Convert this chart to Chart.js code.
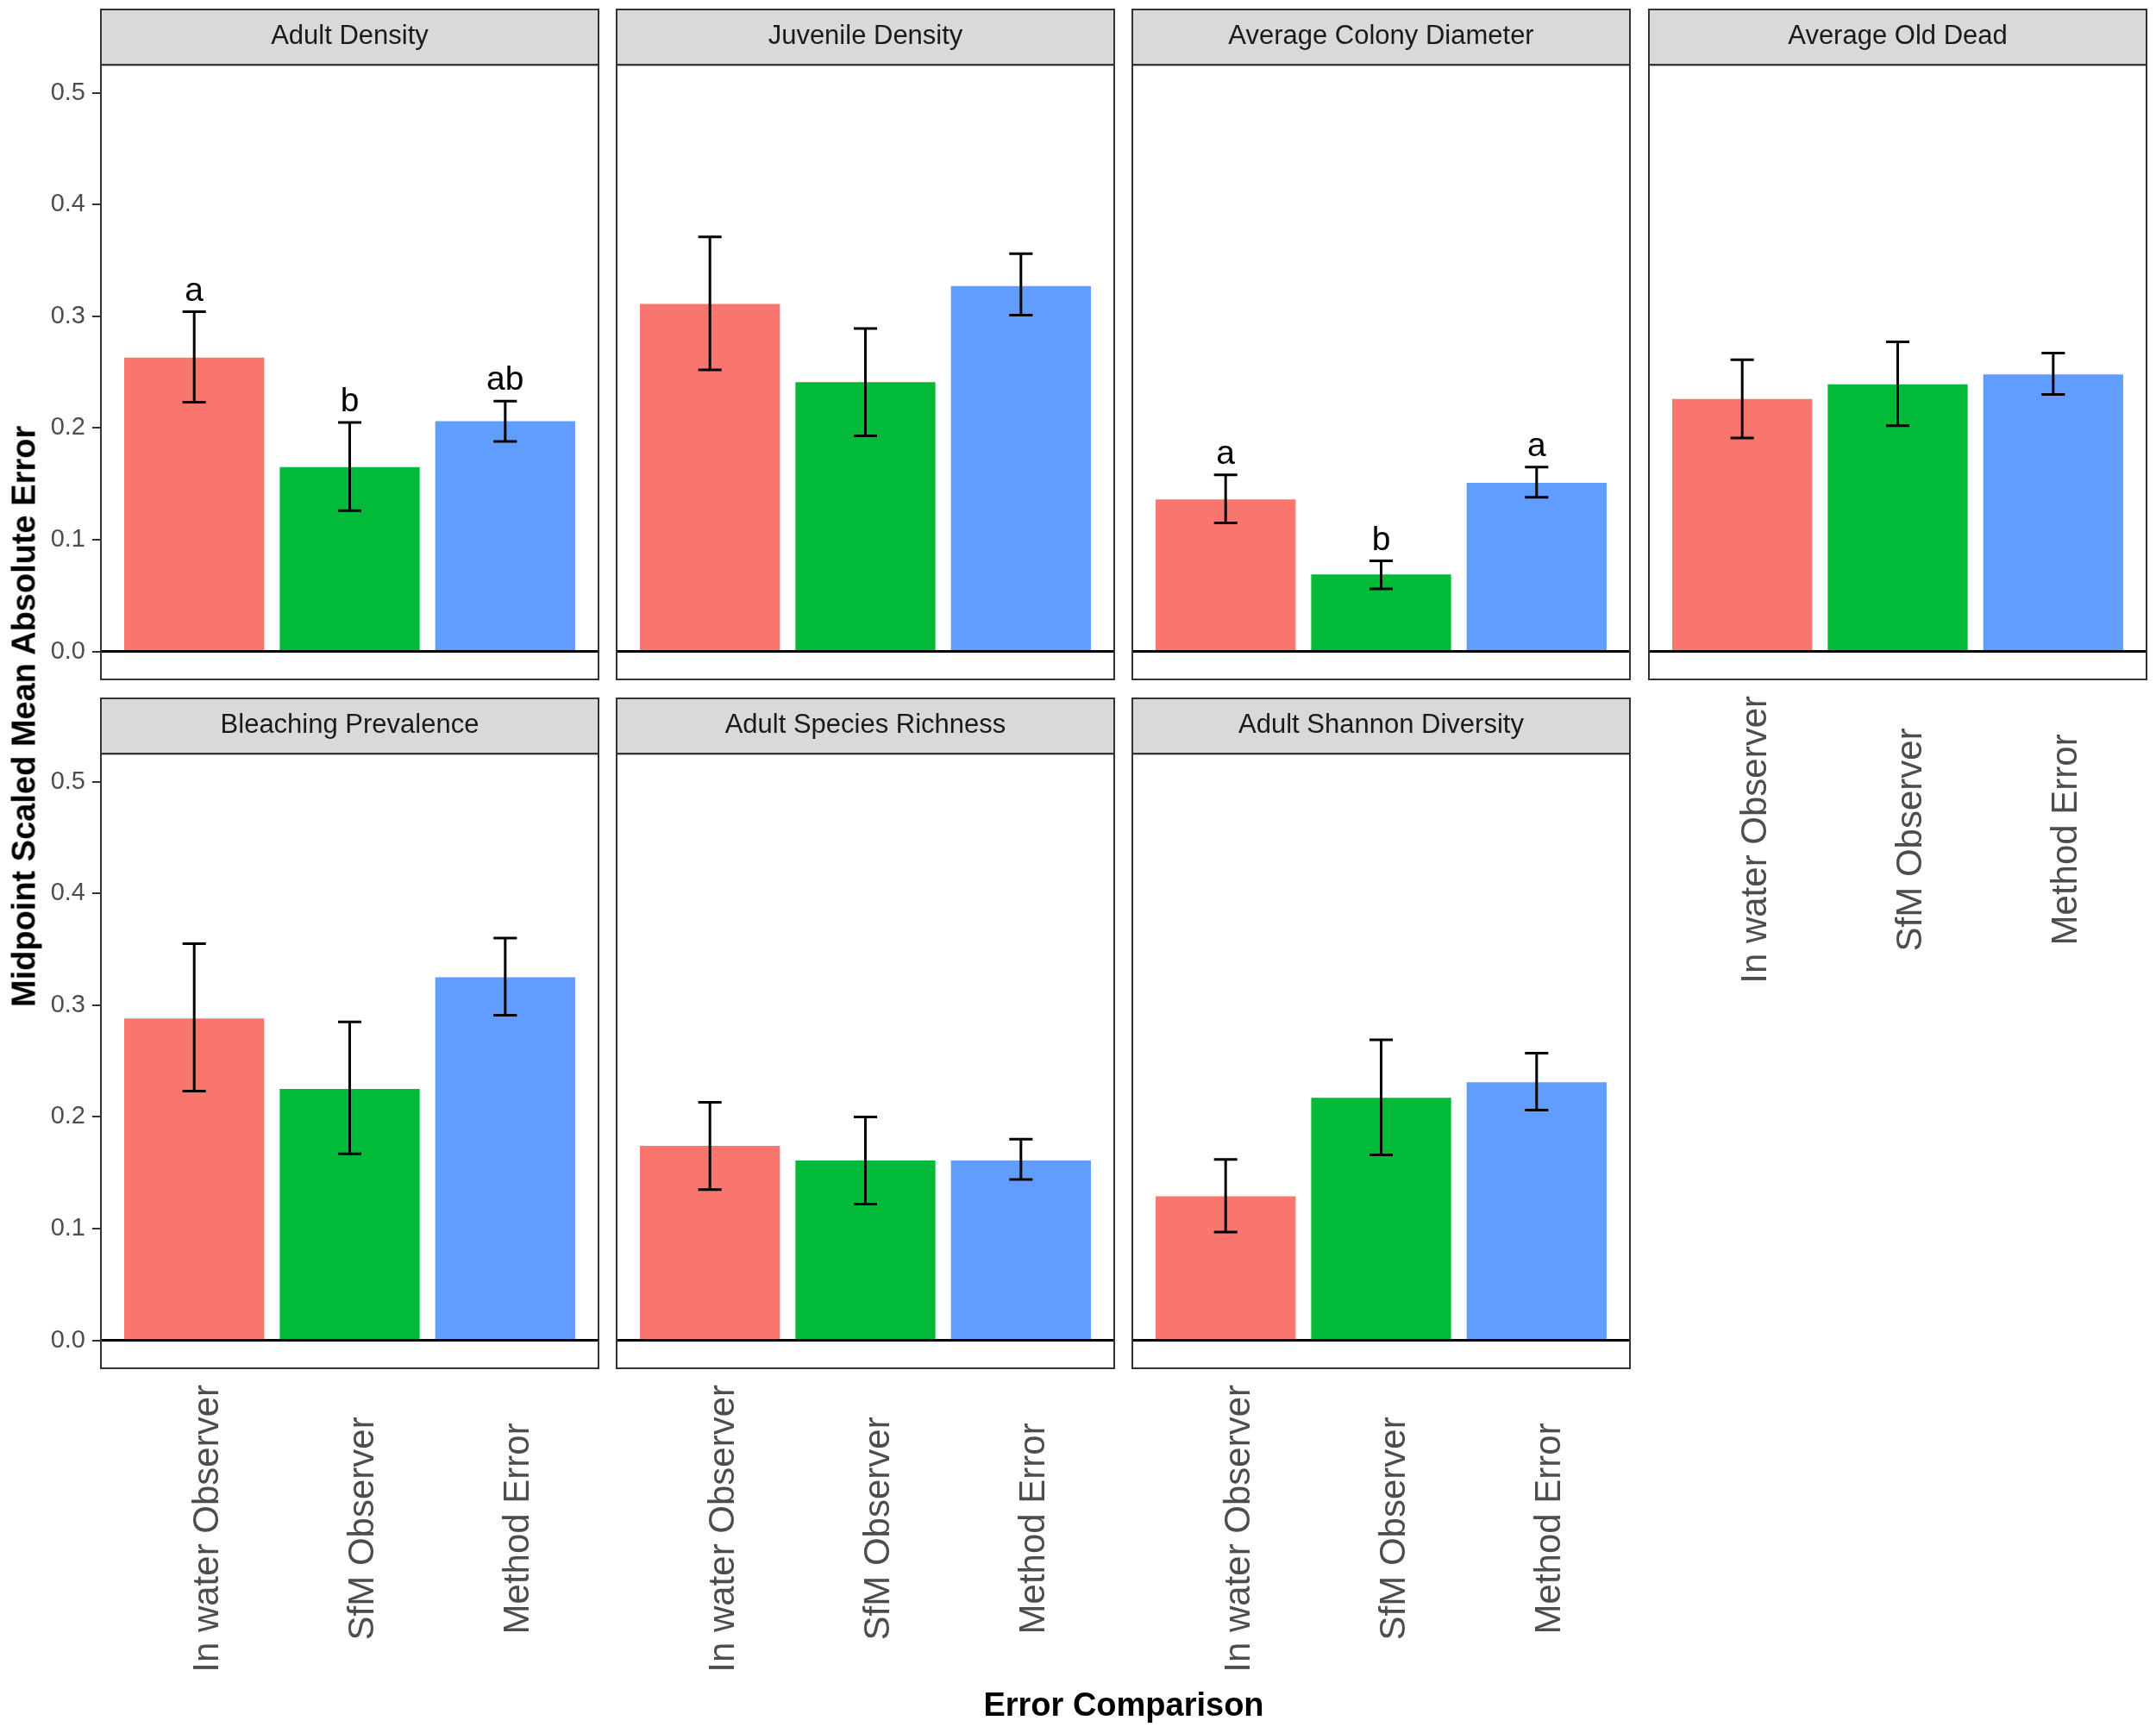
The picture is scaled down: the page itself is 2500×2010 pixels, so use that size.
<!DOCTYPE html>
<html><head><meta charset="utf-8">
<script src="https://cdn.jsdelivr.net/npm/chart.js@4.4.1/dist/chart.umd.min.js"></script>
<style>
html,body{margin:0;padding:0;background:#fff;}
body{width:2500px;height:2010px;position:relative;overflow:hidden;font-family:"Liberation Sans",Arial,sans-serif;}
canvas{position:absolute;}
.ttl{position:absolute;font-weight:bold;font-size:38px;color:#000;white-space:nowrap;z-index:5;}
</style></head><body>
<div class="ttl" style="left:28px;top:831px;transform:translate(-50%,-50%) rotate(-90deg);">Midpoint Scaled Mean Absolute Error</div>
<div class="ttl" style="left:1303px;top:1977px;transform:translate(-50%,-50%);">Error Comparison</div>
<script>
// ---- data ----
const facets = ["Adult Density","Juvenile Density","Average Colony Diameter","Average Old Dead","Bleaching Prevalence","Adult Species Richness","Adult Shannon Diversity"];
const comparisons = ["In water Observer","SfM Observer","Method Error"];
const inWaterMean = [0.263, 0.311, 0.136, 0.226, 0.288, 0.174, 0.129];
const inWaterLow  = [0.223, 0.252, 0.115, 0.191, 0.223, 0.135, 0.097];
const inWaterHigh = [0.304, 0.371, 0.158, 0.261, 0.355, 0.213, 0.162];
const sfmMean = [0.165, 0.241, 0.069, 0.239, 0.225, 0.161, 0.217];
const sfmLow  = [0.126, 0.193, 0.056, 0.202, 0.167, 0.122, 0.166];
const sfmHigh = [0.205, 0.289, 0.081, 0.277, 0.285, 0.200, 0.269];
const methodMean = [0.206, 0.327, 0.151, 0.248, 0.325, 0.161, 0.231];
const methodLow  = [0.188, 0.301, 0.138, 0.230, 0.291, 0.144, 0.206];
const methodHigh = [0.224, 0.356, 0.165, 0.267, 0.360, 0.180, 0.257];
const inWaterLetters = ["a", "", "a", "", "", "", ""];
const sfmLetters     = ["b", "", "b", "", "", "", ""];
const methodLetters  = ["ab","", "a", "", "", "", ""];
const yTicks = [0, 0.1, 0.2, 0.3, 0.4, 0.5];
const yMin = -0.025, yMax = 0.525;

const means = [inWaterMean, sfmMean, methodMean];
const lows = [inWaterLow, sfmLow, methodLow];
const highs = [inWaterHigh, sfmHigh, methodHigh];
const letters = [inWaterLetters, sfmLetters, methodLetters];
const barColors = ['#F8766D', '#00BA38', '#619CFF'];

// ---- layout / style ----
const FONT = '"Liberation Sans", Arial, sans-serif';
const COL_LEFT = [117, 715, 1313, 1912];
const ROW_TOP = [10, 809];
const PANEL_W = 577, STRIP_H = 65, PANEL_H = 713, YAXIS_W = 100, XAXIS_H = 370;
const CAP_HALF = 0.075;
const X_LABEL_SHIFT = 16;

const decor = {
  id: 'decor',
  beforeDraw(chart) {
    const ctx = chart.ctx, ca = chart.chartArea;
    ctx.save();
    ctx.fillStyle = '#D9D9D9';
    ctx.fillRect(ca.left, 1, ca.width, ca.top - 1);
    ctx.strokeStyle = '#333333';
    ctx.lineWidth = 2;
    ctx.strokeRect(ca.left, 1, ca.width, ca.top - 1);
    ctx.restore();
    const xs = chart.scales.x;
    if (xs.options.display) {
      try {
        const items = xs.getLabelItems();
        const f = xs.options.ticks.font;
        ctx.save();
        ctx.font = f.size + 'px ' + f.family;
        let maxW = 0;
        items.forEach(it => { maxW = Math.max(maxW, ctx.measureText(String(it.label)).width); });
        ctx.restore();
        items.forEach(it => {
          if (it._centered) return;
          it._centered = true;
          it.options.textAlign = 'center';
          it.options.translation[1] += maxW / 2;
          it.options.translation[0] += X_LABEL_SHIFT;
        });
      } catch (e) {}
    }
  },
  afterDatasetsDraw(chart) {
    const ctx = chart.ctx, ca = chart.chartArea;
    const xs = chart.scales.x, ys = chart.scales.y;
    const fi = chart.options.plugins.decor.facet;
    ctx.save();
    // zero line
    const y0 = ys.getPixelForValue(0);
    ctx.strokeStyle = '#000';
    ctx.lineWidth = 3;
    ctx.beginPath();
    ctx.moveTo(ca.left, y0); ctx.lineTo(ca.right, y0);
    ctx.stroke();
    // error bars and letters
    ctx.lineWidth = 3;
    for (let j = 0; j < comparisons.length; j++) {
      const x = xs.getPixelForValue(j + 1);
      const xl = xs.getPixelForValue(j + 1 - CAP_HALF);
      const xr = xs.getPixelForValue(j + 1 + CAP_HALF);
      const yl = ys.getPixelForValue(lows[j][fi]);
      const yh = ys.getPixelForValue(highs[j][fi]);
      ctx.beginPath();
      ctx.moveTo(x, yl); ctx.lineTo(x, yh);
      ctx.moveTo(xl, yl); ctx.lineTo(xr, yl);
      ctx.moveTo(xl, yh); ctx.lineTo(xr, yh);
      ctx.stroke();
      const lt = letters[j][fi];
      if (lt) {
        ctx.fillStyle = '#000';
        ctx.font = '39px ' + FONT;
        ctx.textAlign = 'center';
        ctx.textBaseline = 'alphabetic';
        ctx.fillText(lt, x, yh - 13);
      }
    }
    ctx.restore();
  },
  afterDraw(chart) {
    const ctx = chart.ctx, ca = chart.chartArea;
    ctx.save();
    ctx.strokeStyle = '#333333';
    ctx.lineWidth = 2;
    ctx.strokeRect(ca.left, ca.top, ca.width, ca.height);
    ctx.restore();
  }
};

facets.forEach((name, i) => {
  const row = Math.floor(i / 4), col = i % 4;
  const isLeft = col === 0;
  const isBottom = i >= 3;
  const padL = isLeft ? YAXIS_W : 2;
  const padB = isBottom ? XAXIS_H : 2;
  const W = padL + PANEL_W + 2;
  const H = STRIP_H + PANEL_H + padB;
  const cv = document.createElement('canvas');
  cv.width = W; cv.height = H;
  cv.style.left = (COL_LEFT[col] - padL) + 'px';
  cv.style.top = ROW_TOP[row] + 'px';
  cv.style.width = W + 'px'; cv.style.height = H + 'px';
  document.body.appendChild(cv);

  new Chart(cv, {
    type: 'bar',
    data: {
      datasets: [{
        data: comparisons.map((c, j) => ({ x: j + 1, y: means[j][i] })),
        backgroundColor: barColors,
        borderWidth: 0,
        barPercentage: 0.9,
        categoryPercentage: 1.0
      }]
    },
    options: {
      responsive: false,
      animation: false,
      devicePixelRatio: 1,
      layout: { padding: { left: isLeft ? 0 : 2, right: 2, top: 0, bottom: isBottom ? 0 : 2 } },
      plugins: {
        legend: { display: false },
        tooltip: { enabled: false },
        title: {
          display: true, text: name, fullSize: false,
          font: { size: 31, family: FONT, weight: 'normal' },
          color: '#1A1A1A',
          padding: { top: 14, bottom: 14 }
        },
        decor: { facet: i }
      },
      scales: {
        x: {
          type: 'linear', min: 0.4, max: 3.6, offset: false,
          display: isBottom,
          afterBuildTicks: s => { s.ticks = comparisons.map((c, j) => ({ value: j + 1 })); },
          afterFit: s => { if (isBottom) s.height = XAXIS_H; s.paddingLeft = 0; s.paddingRight = 0; },
          grid: { display: false, drawTicks: false, offset: false },
          border: { display: false },
          ticks: {
            callback: v => comparisons[Math.round(v) - 1] || '',
            minRotation: 90, maxRotation: 90, autoSkip: false,
            font: { size: 42, family: FONT }, color: '#4D4D4D', padding: 19
          }
        },
        y: {
          type: 'linear', min: yMin, max: yMax,
          display: isLeft,
          afterBuildTicks: s => { s.ticks = yTicks.map(v => ({ value: v })); },
          afterFit: s => { if (isLeft) s.width = YAXIS_W; s.paddingTop = 0; s.paddingBottom = 0; },
          grid: { display: true, drawOnChartArea: false, drawTicks: true, tickLength: 10, color: '#333333', lineWidth: 2 },
          border: { display: false },
          ticks: {
            callback: v => Number(v).toFixed(1),
            font: { size: 29, family: FONT }, color: '#4D4D4D', padding: 8
          }
        }
      }
    },
    plugins: [decor]
  });
});
</script>
</body></html>
